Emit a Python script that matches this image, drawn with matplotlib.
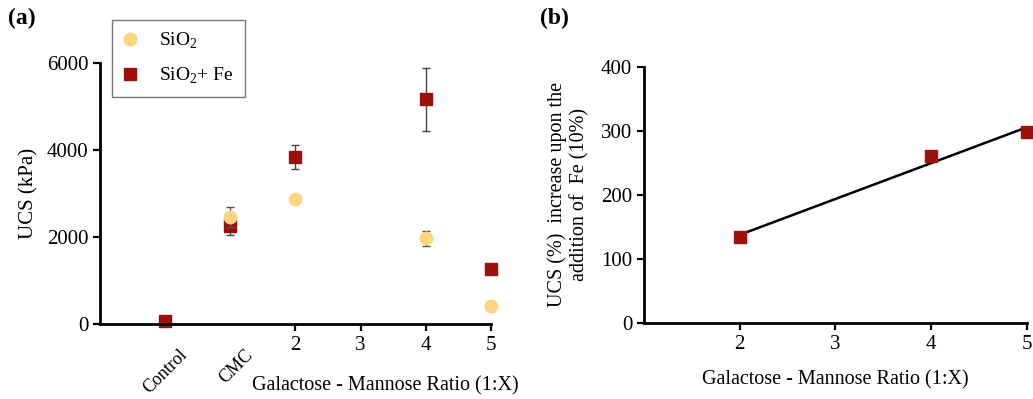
import matplotlib
matplotlib.use("Agg")
import matplotlib.pyplot as plt
from matplotlib.lines import Line2D
import numpy as np

plt.rcParams['font.family'] = ['Liberation Serif', 'DejaVu Serif']
plt.rcParams['mathtext.fontset'] = 'custom'
plt.rcParams['mathtext.rm'] = 'Liberation Serif'

# panel (a): UCS per sample; Control at 0, CMC at 1, ratios at 2, 4, 5
sio2_x = [1, 2, 4, 5]
sio2_ucs = [2470, 2870, 1970, 420]
sio2_err = [230, 0, 170, 0]

fe_x = [0, 1, 2, 4, 5]
fe_ucs = [80, 2260, 3840, 5165, 1270]
fe_err = [0, 210, 265, 720, 0]

cat_pos = [0, 1]
cat_labels = ['Control', 'CMC']
ratio_ticks = [2, 3, 4, 5]

# panel (b): UCS increase with Fe
ratio_b = [2, 4, 5]
increase_b = [134, 261, 298]

YELLOW = '#FDD47F'
RED = '#9C0F0B'

fig = plt.figure(figsize=(10.33, 3.99), dpi=100)
ax1 = fig.add_axes([0.0968, 0.188, 0.3785, 0.654])
ax2 = fig.add_axes([0.6234, 0.19, 0.3708, 0.643])

for ax in (ax1, ax2):
    ax.spines['top'].set_visible(False)
    ax.spines['right'].set_visible(False)
    ax.spines['left'].set_linewidth(2)
    ax.spines['bottom'].set_linewidth(2)
    ax.tick_params(width=1.6, length=5, labelsize=15)

# (a)
ax1.errorbar(sio2_x, sio2_ucs, yerr=sio2_err, fmt='o', color=YELLOW, ms=9,
             ecolor='#555555', elinewidth=1, capsize=3, zorder=3, clip_on=False)
ax1.errorbar(fe_x, fe_ucs, yerr=fe_err, fmt='s', color=RED, ms=9,
             ecolor='#444444', elinewidth=1, capsize=3, zorder=2, clip_on=False)
ax1.set_xlim(-1, 5)
ax1.set_ylim(0, 6000)
ax1.set_xticks(ratio_ticks)
ax1.set_yticks([0, 2000, 4000, 6000])
ax1.set_ylabel('UCS (kPa)', fontsize=15, labelpad=6)
for x, lab in zip(cat_pos, cat_labels):
    ax1.annotate(lab, xy=(x, 0), xycoords=('data', 'axes fraction'),
                 xytext=(10, -16), textcoords='offset points',
                 rotation=45, ha='right', va='top', rotation_mode='anchor',
                 fontsize=13)
ax1.text(0.73, -0.2, 'Galactose - Mannose Ratio (1:X)', transform=ax1.transAxes,
         ha='center', va='top', fontsize=14.5)
handles = [Line2D([], [], ls='none', marker='o', color=YELLOW, ms=9),
           Line2D([], [], ls='none', marker='s', color=RED, ms=9)]
leg = ax1.legend(handles, ['SiO$_2$', 'SiO$_2$+ Fe'], loc='upper left',
                 bbox_to_anchor=(0.03, 1.165), borderaxespad=0, fontsize=14,
                 frameon=True, fancybox=False, edgecolor='#555555',
                 handlelength=0.8, handletextpad=1.1, borderpad=0.55,
                 labelspacing=0.75)
leg.get_frame().set_linewidth(1)
fig.text(0.008, 0.94, '(a)', fontsize=17, fontweight='bold')

# (b)
ax2.plot(ratio_b, increase_b, 's', color=RED, ms=9, zorder=3, clip_on=False)
coef = np.polyfit(ratio_b, increase_b, 1)
xs = np.array([min(ratio_b), max(ratio_b)])
ax2.plot(xs, np.polyval(coef, xs), color='black', lw=1.8, zorder=2)
ax2.set_xlim(1, 5)
ax2.set_ylim(0, 400)
ax2.set_xticks([2, 3, 4, 5])
ax2.set_yticks([0, 100, 200, 300, 400])
ax2.set_xlabel('Galactose - Mannose Ratio (1:X)', fontsize=14.5, labelpad=12)
ax2.set_ylabel('UCS (%)  increase upon the\naddition of  Fe (10%)', fontsize=14.5,
               labelpad=8)
fig.text(0.523, 0.94, '(b)', fontsize=17, fontweight='bold')

fig.savefig('out.png', dpi=100)
